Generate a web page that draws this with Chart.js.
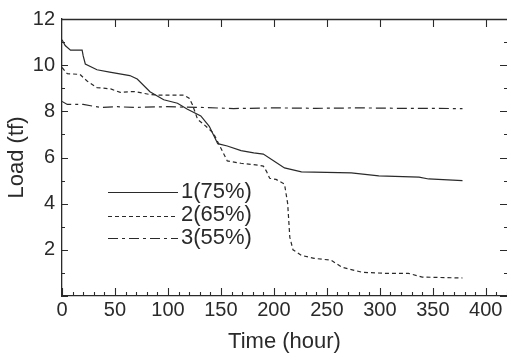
<!DOCTYPE html>
<html>
<head>
<meta charset="utf-8">
<script src="https://cdn.jsdelivr.net/npm/chart.js@4/dist/chart.umd.min.js"></script>
<style>
  html, body { margin: 0; padding: 0; background: #ffffff; }
  #wrap { width: 507px; height: 355px; position: relative; }
</style>
</head>
<body>
<div id="wrap"><canvas id="c" width="507" height="355"></canvas></div>
<script>
// ---- data ----
const seriesLabels = ['1(75%)', '2(65%)', '3(55%)'];

const time1 = [0, 3, 8, 19, 20, 22, 33, 45, 64, 71, 83, 96, 109, 118, 131, 139, 147, 156, 169, 181, 190, 200, 210, 226, 273, 299, 337, 346, 378];
const load1 = [11.1, 10.85, 10.65, 10.65, 10.4, 10.05, 9.8, 9.7, 9.55, 9.4, 8.85, 8.5, 8.35, 8.1, 7.8, 7.35, 6.6, 6.5, 6.3, 6.2, 6.15, 5.85, 5.55, 5.38, 5.33, 5.2, 5.15, 5.07, 5.0];

const time2 = [0, 5, 17, 24, 33, 46, 55, 68, 83, 93, 115, 120, 123, 128, 134, 143, 150, 156, 169, 185, 190, 193, 196, 202, 210, 213, 215, 218, 226, 238, 254, 264, 283, 305, 327, 340, 378];
const load2 = [9.9, 9.63, 9.6, 9.3, 9.03, 8.97, 8.82, 8.86, 8.73, 8.7, 8.7, 8.57, 8.3, 7.65, 7.43, 7.05, 6.4, 5.85, 5.75, 5.67, 5.63, 5.4, 5.1, 5.05, 4.85, 4.0, 2.55, 2.0, 1.76, 1.63, 1.55, 1.25, 1.03, 0.98, 0.98, 0.82, 0.78];

const time3 = [0, 5, 20, 36, 52, 68, 99, 131, 162, 200, 240, 280, 320, 378];
const load3 = [8.43, 8.3, 8.3, 8.17, 8.2, 8.17, 8.2, 8.17, 8.12, 8.15, 8.13, 8.15, 8.13, 8.12];

const xTickValues = [0, 50, 100, 150, 200, 250, 300, 350, 400];
const yTickValues = [0, 2, 4, 6, 8, 10, 12];

// ---- build ----
const toPts = (xs, ys) => xs.map((x, i) => ({ x: x, y: ys[i] }));
const ink = '#2a2a2a';
const FONT = 'Liberation Sans, Arial, Helvetica, sans-serif';

const frameTicks = {
  id: 'frameTicks',
  afterDraw(chart) {
    const { ctx, chartArea: a, scales: { x, y } } = chart;
    ctx.save();
    ctx.strokeStyle = ink;
    ctx.lineWidth = 1.3;
    // top border
    ctx.beginPath();
    ctx.moveTo(a.left, a.top + 0.5);
    ctx.lineTo(a.right, a.top + 0.5);
    ctx.stroke();
    ctx.lineWidth = 1.1;
    ctx.beginPath();
    // x minor + major ticks (bottom), major ticks (top)
    for (let v = x.min; v <= x.max; v += 10) {
      const px = Math.round(x.getPixelForValue(v)) + 0.5;
      const major = v % 50 === 0;
      ctx.moveTo(px, a.bottom);
      ctx.lineTo(px, a.bottom - (major ? 8 : 4));
      if (major && v > 0) {
        ctx.moveTo(px, a.top);
        ctx.lineTo(px, a.top + 8);
      }
    }
    // y ticks left and right
    for (let v = y.min; v <= y.max; v += 1) {
      const py = Math.round(y.getPixelForValue(v)) + 0.5;
      const major = v % 2 === 0;
      ctx.moveTo(a.left, py);
      ctx.lineTo(a.left + (major ? 6 : 3), py);
      ctx.moveTo(a.right, py);
      ctx.lineTo(a.right - (major ? 7 : 3), py);
    }
    ctx.stroke();

    // legend
    const legendX0 = 108, legendX1 = 178, textX = 181;
    const lineY = [192, 216, 238];
    const textY = [191, 214, 237];
    chart.data.datasets.forEach((ds, i) => {
      ctx.beginPath();
      ctx.setLineDash(ds.borderDash || []);
      ctx.lineWidth = ds.borderWidth;
      ctx.strokeStyle = ds.borderColor;
      ctx.moveTo(legendX0, lineY[i] + 0.5);
      ctx.lineTo(legendX1, lineY[i] + 0.5);
      ctx.stroke();
      ctx.setLineDash([]);
      ctx.fillStyle = ink;
      ctx.font = '22px ' + FONT;
      ctx.textBaseline = 'middle';
      ctx.textAlign = 'left';
      ctx.fillText(ds.label, textX, textY[i] + 1);
    });
    ctx.restore();
  }
};

new Chart(document.getElementById('c'), {
  type: 'line',
  data: {
    datasets: [
      { label: seriesLabels[0], data: toPts(time1, load1), borderColor: ink, borderWidth: 1.2, borderDash: [], pointRadius: 0, tension: 0 },
      { label: seriesLabels[1], data: toPts(time2, load2), borderColor: ink, borderWidth: 1.2, borderDash: [4, 3], pointRadius: 0, tension: 0 },
      { label: seriesLabels[2], data: toPts(time3, load3), borderColor: ink, borderWidth: 1.2, borderDash: [10, 4, 3, 4], pointRadius: 0, tension: 0 }
    ]
  },
  options: {
    responsive: false,
    animation: false,
    events: [],
    layout: { padding: { top: 17, right: 0, left: 0, bottom: 0 } },
    plugins: { legend: { display: false }, tooltip: { enabled: false } },
    scales: {
      x: {
        type: 'linear',
        min: 0,
        max: 420,
        afterFit(s) { s.height = 59; },
        afterBuildTicks(s) { s.ticks = xTickValues.map(v => ({ value: v })); },
        grid: { display: false, drawTicks: false },
        border: { display: true, color: ink, width: 1.3 },
        ticks: { color: ink, padding: 2, font: { family: FONT, size: 20 }, maxRotation: 0 },
        title: { display: true, text: 'Time (hour)', color: ink, font: { family: FONT, size: 22 }, padding: { top: 0, bottom: 0 } }
      },
      y: {
        min: 0,
        max: 12,
        afterFit(s) { s.width = 62; },
        afterBuildTicks(s) { s.ticks = yTickValues.map(v => ({ value: v })); },
        grid: { display: false, drawTicks: false },
        border: { display: true, color: ink, width: 1.3 },
        ticks: { color: ink, padding: 7, font: { family: FONT, size: 20 }, callback: v => (v === 0 ? '' : String(v)) },
        title: { display: true, text: 'Load (tf)', color: ink, font: { family: FONT, size: 22 }, padding: { top: 4, bottom: 0 } }
      }
    }
  },
  plugins: [frameTicks]
});
</script>
</body>
</html>
